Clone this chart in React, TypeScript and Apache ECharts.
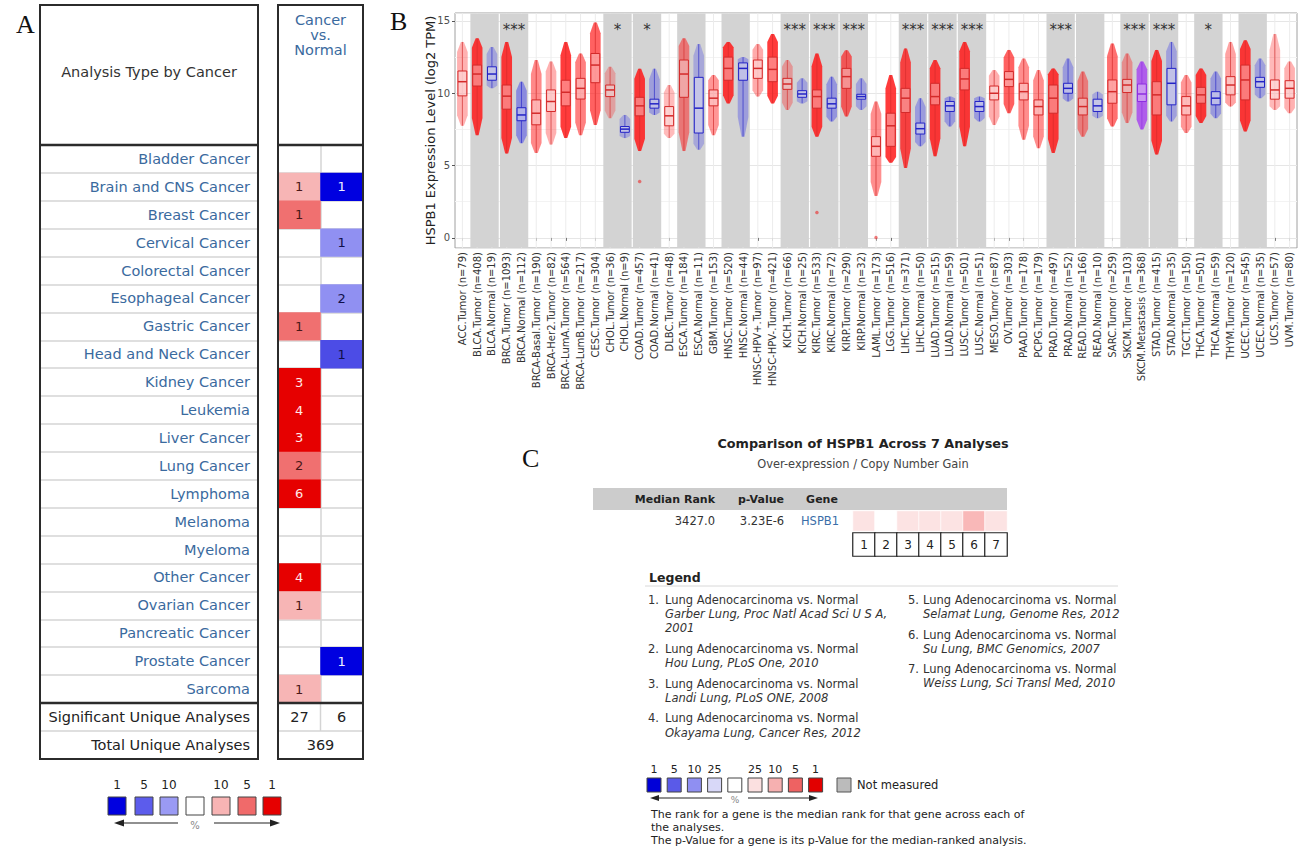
import React, { useEffect, useRef } from 'react';
import * as echarts from 'echarts';

const SANS = 'DejaVu Sans';
const SERIF = 'Liberation Serif';

// ---------------- Panel B data (TIMER) ----------------
const tcgaCodes = [
  'ACC', 'BLCA', 'BLCA', 'BRCA', 'BRCA', 'BRCA-Basal', 'BRCA-Her2', 'BRCA-LumA', 'BRCA-LumB', 'CESC',
  'CHOL', 'CHOL', 'COAD', 'COAD', 'DLBC', 'ESCA', 'ESCA', 'GBM', 'HNSC', 'HNSC',
  'HNSC-HPV+', 'HNSC-HPV-', 'KICH', 'KICH', 'KIRC', 'KIRC', 'KIRP', 'KIRP', 'LAML', 'LGG',
  'LIHC', 'LIHC', 'LUAD', 'LUAD', 'LUSC', 'LUSC', 'MESO', 'OV', 'PAAD', 'PCPG',
  'PRAD', 'PRAD', 'READ', 'READ', 'SARC', 'SKCM', 'SKCM', 'STAD', 'STAD', 'TGCT',
  'THCA', 'THCA', 'THYM', 'UCEC', 'UCEC', 'UCS', 'UVM',
];
const sampleTypes = [
  'Tumor', 'Tumor', 'Normal', 'Tumor', 'Normal', 'Tumor', 'Tumor', 'Tumor', 'Tumor', 'Tumor',
  'Tumor', 'Normal', 'Tumor', 'Normal', 'Tumor', 'Tumor', 'Normal', 'Tumor', 'Tumor', 'Normal',
  'Tumor', 'Tumor', 'Tumor', 'Normal', 'Tumor', 'Normal', 'Tumor', 'Normal', 'Tumor', 'Tumor',
  'Tumor', 'Normal', 'Tumor', 'Normal', 'Tumor', 'Normal', 'Tumor', 'Tumor', 'Tumor', 'Tumor',
  'Tumor', 'Normal', 'Tumor', 'Normal', 'Tumor', 'Tumor', 'Metastasis', 'Tumor', 'Normal', 'Tumor',
  'Tumor', 'Normal', 'Tumor', 'Tumor', 'Normal', 'Tumor', 'Tumor',
];
const sampleSizes = [
  79, 408, 19, 1093, 112, 190, 82, 564, 217, 304,
  36, 9, 457, 41, 48, 184, 11, 153, 520, 44,
  97, 421, 66, 25, 533, 72, 290, 32, 173, 516,
  371, 50, 515, 59, 501, 51, 87, 303, 178, 179,
  497, 52, 166, 10, 259, 103, 368, 415, 35, 150,
  501, 59, 120, 545, 35, 57, 80,
];
const lowerPts = [
  7.75, 7.1, 10.35, 5.83, 6.55, 5.87, 6.45, 6.9, 7.1, 7.8,
  8.28, 6.9, 6.0, 8.5, 6.9, 6.0, 6.1, 7.1, 9.3, 7.0,
  9.77, 9.3, 8.85, 9.3, 7.0, 8.05, 8.4, 8.85, 2.9, 5.2,
  4.84, 6.33, 5.64, 7.7, 6.33, 8.05, 7.8, 8.62, 6.79, 6.2,
  5.87, 9.43, 7.0, 8.28, 7.7, 7.94, 7.5, 5.76, 8.05, 7.25,
  7.94, 8.28, 9.08, 7.36, 9.66, 8.85, 8.62,
];
const q1Values = [
  9.82, 10.5, 10.9, 8.9, 8.1, 7.82, 8.74, 9.13, 9.6, 10.73,
  9.77, 7.3, 8.44, 8.97, 7.75, 9.72, 7.25, 9.13, 10.9, 10.9,
  11.03, 10.8, 10.27, 9.72, 8.97, 8.97, 10.34, 9.59, 5.64, 6.33,
  8.67, 7.18, 9.2, 8.74, 10.23, 8.74, 9.54, 10.46, 9.54, 8.5,
  8.62, 10.0, 8.5, 8.74, 9.31, 10.05, 9.43, 8.5, 9.2, 8.5,
  9.31, 9.2, 9.89, 9.54, 10.41, 9.59, 9.66,
];
const medianValues = [
  10.8, 11.33, 11.33, 9.8, 8.5, 8.62, 9.43, 10.07, 10.34, 11.95,
  10.23, 7.52, 9.13, 9.27, 8.44, 11.33, 8.97, 9.66, 11.72, 11.72,
  11.72, 11.65, 10.64, 9.95, 9.77, 9.27, 11.15, 9.77, 6.33, 7.75,
  9.66, 7.55, 9.77, 9.13, 10.99, 9.08, 10.0, 10.96, 10.11, 9.08,
  9.66, 10.34, 9.08, 9.13, 10.11, 10.57, 9.95, 9.89, 10.69, 9.13,
  9.89, 9.66, 10.57, 10.92, 10.8, 10.23, 10.34,
];
const q3Values = [
  11.54, 11.95, 11.83, 10.57, 9.0, 9.54, 10.23, 10.9, 11.03, 12.75,
  10.57, 7.7, 9.72, 9.59, 9.08, 12.3, 11.1, 10.23, 12.5, 12.1,
  12.3, 12.5, 11.03, 10.18, 10.23, 9.66, 11.72, 9.93, 7.0, 8.62,
  10.34, 7.94, 10.69, 9.43, 11.72, 9.43, 10.5, 11.5, 10.69, 9.54,
  10.57, 10.69, 9.66, 9.59, 10.92, 10.96, 10.64, 10.8, 11.72, 9.77,
  10.41, 10.11, 11.15, 11.95, 11.1, 10.92, 10.87,
];
const upperPts = [
  13.55, 13.8, 13.2, 13.55, 10.8, 12.3, 12.2, 13.55, 12.75, 14.9,
  11.83, 8.5, 11.7, 11.7, 10.57, 13.8, 13.4, 11.26, 13.55, 12.5,
  13.4, 14.1, 12.3, 11.03, 12.75, 11.15, 12.98, 11.03, 9.43, 11.26,
  13.1, 9.66, 12.3, 9.77, 13.55, 9.77, 11.6, 13.0, 12.4, 11.6,
  11.72, 12.4, 11.5, 10.1, 13.44, 12.75, 12.2, 13.0, 13.55, 11.26,
  11.72, 11.5, 13.55, 13.67, 12.4, 14.1, 12.2,
];
const outlierPoints = [[12, 3.9], [24, 1.75], [28, 0.02]];
const shadedPairs = [
  [1, 2], [3, 4], [10, 11], [12, 13], [15, 16], [18, 19], [22, 23], [24, 25], [26, 27],
  [30, 31], [32, 33], [34, 35], [40, 41], [42, 43], [45, 46], [47, 48], [50, 51], [53, 54],
];
const significance = [
  [3, 3], [10, 1], [12, 1], [22, 3], [24, 3], [26, 3], [30, 3], [32, 3], [34, 3],
  [40, 3], [45, 3], [47, 3], [50, 1],
];
const yAxisTitle = 'HSPB1 Expression Level (log2 TPM)';

// ---------------- Panel A data (Oncomine) ----------------
const cancerTypes = [
  'Bladder Cancer', 'Brain and CNS Cancer', 'Breast Cancer', 'Cervical Cancer', 'Colorectal Cancer',
  'Esophageal Cancer', 'Gastric Cancer', 'Head and Neck Cancer', 'Kidney Cancer', 'Leukemia',
  'Liver Cancer', 'Lung Cancer', 'Lymphoma', 'Melanoma', 'Myeloma',
  'Other Cancer', 'Ovarian Cancer', 'Pancreatic Cancer', 'Prostate Cancer', 'Sarcoma',
];
const overCounts = [null, 1, 1, null, null, null, 1, null, 3, 4, 3, 2, 6, null, null, 4, 1, null, null, 1];
const overLevels = [null, 10, 5, null, null, null, 5, null, 1, 1, 1, 5, 1, null, null, 1, 10, null, null, 10];
const underCounts = [null, 1, null, 1, null, 2, null, 1, null, null, null, null, null, null, null, null, null, null, 1, null];
const underLevels = [null, 1, null, 10, null, 10, null, 5, null, null, null, null, null, null, null, null, null, null, 1, null];
const significantUnique = [27, 6];
const totalUnique = 369;
const legendALabels = ['1', '5', '10', '', '10', '5', '1'];

// ---------------- Panel C data ----------------
const analysisIds = [1, 2, 3, 4, 5, 6, 7];
const analysisPercentile = [25, 100, 25, 25, 25, 10, 25];
const medianRank = '3427.0';
const pValue = '3.23E-6';
const geneName = 'HSPB1';
const legendStudies = [
  ['Lung Adenocarcinoma vs. Normal', 'Garber Lung, Proc Natl Acad Sci U S A,', '2001'],
  ['Lung Adenocarcinoma vs. Normal', 'Hou Lung, PLoS One, 2010'],
  ['Lung Adenocarcinoma vs. Normal', 'Landi Lung, PLoS ONE, 2008'],
  ['Lung Adenocarcinoma vs. Normal', 'Okayama Lung, Cancer Res, 2012'],
  ['Lung Adenocarcinoma vs. Normal', 'Selamat Lung, Genome Res, 2012'],
  ['Lung Adenocarcinoma vs. Normal', 'Su Lung, BMC Genomics, 2007'],
  ['Lung Adenocarcinoma vs. Normal', 'Weiss Lung, Sci Transl Med, 2010'],
];
const legendCLabels = ['1', '5', '10', '25', '', '25', '10', '5', '1'];

// ---------------- helpers ----------------
type TOpt = { size?: number; color?: string; align?: string; weight?: string; style?: string; family?: string; z?: number };
const txt = (text: string, x: number, y: number, o: TOpt = {}) => ({
  type: 'text', x, y, z: o.z ?? 20, silent: true,
  style: {
    text, fill: o.color || '#333', fontSize: o.size || 12, fontFamily: o.family || SANS,
    fontWeight: o.weight || 'normal', fontStyle: o.style || 'normal',
    align: o.align || 'left', verticalAlign: 'middle',
    textAlign: o.align || 'left', textVerticalAlign: 'middle',
  },
});
const rect = (x: number, y: number, w: number, h: number, fill: string, stroke?: string, lw = 1, z = 15) => ({
  type: 'rect', z, silent: true, shape: { x, y, width: w, height: h },
  style: { fill, stroke: stroke || 'none', lineWidth: lw },
});
const line = (x1: number, y1: number, x2: number, y2: number, stroke: string, lw = 1, z = 15) => ({
  type: 'line', z, silent: true, shape: { x1, y1, x2, y2 }, style: { stroke, lineWidth: lw },
});
const tri = (pts: number[][], fill: string) => ({
  type: 'polygon', z: 15, silent: true, shape: { points: pts }, style: { fill },
});

const STROKE = ['#d42a2a', '#2323c6', '#8d2ee0'];
const CLOUD = ['255,25,25', '25,25,240', '165,60,240'];

function buildOption() {
  const categories = tcgaCodes.map((c, i) => `${c}.${sampleTypes[i]} (n=${sampleSizes[i]})`);
  const typeIdx = sampleTypes.map((t) => (t === 'Tumor' ? 0 : t === 'Normal' ? 1 : 2));
  const boxData = categories.map((_, i) => [
    i, lowerPts[i], q1Values[i], medianValues[i], q3Values[i], upperPts[i], sampleSizes[i], typeIdx[i],
  ]);

  const heatA: any[] = [];
  cancerTypes.forEach((_, r) => {
    if (overCounts[r] != null) {
      heatA.push({ value: [0, r, overCounts[r], overLevels[r]], label: { color: overLevels[r] === 1 ? '#ffe9e9' : '#4a1818' } });
    }
    if (underCounts[r] != null) {
      heatA.push({ value: [1, r, underCounts[r], -(underLevels[r] as number)], label: { color: underLevels[r] === 1 ? '#eef0ff' : '#10104a' } });
    }
  });

  const graphics: any[] = [];
  graphics.push(txt('A', 16, 24, { size: 26, family: SERIF, color: '#111' }));
  graphics.push(txt('B', 390, 21, { size: 26, family: SERIF, color: '#111' }));
  graphics.push(txt('C', 522, 458, { size: 26, family: SERIF, color: '#111' }));

  // ---- Panel A table frame ----
  graphics.push(rect(40, 5, 218, 754, 'none', '#2b2b2b', 2, 30));
  graphics.push(rect(278, 5, 85, 754, 'none', '#2b2b2b', 2, 30));
  graphics.push(line(40, 145, 258, 145, '#2b2b2b', 2.5, 30));
  graphics.push(line(278, 145, 363, 145, '#2b2b2b', 2.5, 30));
  graphics.push(line(40, 703, 258, 703, '#2b2b2b', 2.5, 30));
  graphics.push(line(278, 703, 363, 703, '#2b2b2b', 2.5, 30));
  graphics.push(line(40, 731, 258, 731, '#d4d4d4', 1.5));
  graphics.push(line(278, 731, 363, 731, '#d4d4d4', 1.5));
  graphics.push(line(320.5, 703, 320.5, 731, '#d4d4d4', 1.5));
  graphics.push(txt('Analysis Type by Cancer', 149, 72, { size: 14.5, color: '#333', align: 'center' }));
  graphics.push(txt('Cancer', 320.5, 20, { size: 14.5, color: '#3a6a9e', align: 'center' }));
  graphics.push(txt('vs.', 320.5, 35, { size: 14.5, color: '#3a6a9e', align: 'center' }));
  graphics.push(txt('Normal', 320.5, 50, { size: 14.5, color: '#3a6a9e', align: 'center' }));
  graphics.push(txt('Significant Unique Analyses', 250, 717, { size: 14.5, color: '#222', align: 'right' }));
  graphics.push(txt('Total Unique Analyses', 250, 745, { size: 14.5, color: '#222', align: 'right' }));
  graphics.push(txt(String(significantUnique[0]), 299.5, 717, { size: 14.5, color: '#222', align: 'center' }));
  graphics.push(txt(String(significantUnique[1]), 341.5, 717, { size: 14.5, color: '#222', align: 'center' }));
  graphics.push(txt(String(totalUnique), 320.5, 745, { size: 14.5, color: '#222', align: 'center' }));

  // ---- Panel A legend ----
  const aLegColors = ['#0000e0', '#5c5cec', '#9a9af4', '#ffffff', '#f8b4b4', '#f06a6a', '#e60000'];
  const aLegX = [108, 135, 160, 186, 212, 238, 263];
  aLegX.forEach((x, i) => {
    graphics.push(rect(x, 797, 18, 18, aLegColors[i], '#444', 1));
    if (legendALabels[i]) graphics.push(txt(legendALabels[i], x + 9, 785, { size: 12, color: '#222', align: 'center' }));
  });
  graphics.push(line(122, 823, 178, 823, '#222', 1.2));
  graphics.push(tri([[114, 823], [124, 819.5], [124, 826.5]], '#222'));
  graphics.push(txt('%', 195, 825, { size: 10, color: '#888', align: 'center' }));
  graphics.push(line(214, 823, 272, 823, '#222', 1.2));
  graphics.push(tri([[280, 823], [270, 819.5], [270, 826.5]], '#222'));

  // ---- Panel C ----
  graphics.push(txt('Comparison of HSPB1 Across 7 Analyses', 863, 443, { size: 12.8, weight: 'bold', color: '#222', align: 'center' }));
  graphics.push(txt('Over-expression / Copy Number Gain', 863, 464, { size: 11.4, color: '#444', align: 'center' }));
  graphics.push(rect(593, 488, 414, 22, '#cccccc', undefined, 1, 1));
  graphics.push(txt('Median Rank', 715, 499, { size: 11, weight: 'bold', color: '#222', align: 'right' }));
  graphics.push(txt('p-Value', 761, 499, { size: 11, weight: 'bold', color: '#222', align: 'center' }));
  graphics.push(txt('Gene', 822, 499, { size: 11, weight: 'bold', color: '#222', align: 'center' }));
  graphics.push(txt(medianRank, 715, 521, { size: 11.5, color: '#333', align: 'right' }));
  graphics.push(txt(pValue, 762, 521, { size: 11.5, color: '#333', align: 'center' }));
  graphics.push(txt(geneName, 820, 521, { size: 11.5, color: '#3a6ea8', align: 'center' }));

  graphics.push(txt('Legend', 649, 577, { size: 12.5, weight: 'bold', color: '#222' }));
  graphics.push(line(645, 586, 1118, 586, '#d8d8d8', 1));
  const col1Y = [[600, 614, 628], [649, 663], [684, 698], [718, 733]];
  const col2Y = [[600, 614], [635, 649], [669, 683]];
  legendStudies.forEach((s, k) => {
    const inCol1 = k < 4;
    const ys = inCol1 ? col1Y[k] : col2Y[k - 4];
    const nx = inCol1 ? 648 : 908;
    const tx = inCol1 ? 665 : 923;
    graphics.push(txt(`${k + 1}.`, nx, ys[0], { size: 11.5, color: '#333' }));
    graphics.push(txt(s[0], tx, ys[0], { size: 11.5, color: '#333' }));
    for (let j = 1; j < s.length; j++) {
      graphics.push(txt(s[j], tx, ys[j], { size: 11.5, color: '#333', style: 'italic' }));
    }
  });

  const cLegColors = ['#0000d8', '#5a5ae8', '#8f8ff2', '#d8d8f8', '#ffffff', '#fbe0e0', '#f6b0b0', '#ee6262', '#e20000'];
  cLegColors.forEach((c, i) => {
    const x = 647 + i * 20.2;
    graphics.push(rect(x, 778, 14, 14, c, '#444', 1));
    if (legendCLabels[i]) graphics.push(txt(legendCLabels[i], x + 7, 769, { size: 11, color: '#222', align: 'center' }));
  });
  graphics.push(rect(837, 778, 14, 14, '#bbbbbb', '#555', 1));
  graphics.push(txt('Not measured', 857, 785, { size: 11.5, color: '#222' }));
  graphics.push(line(657, 798, 722, 798, '#222', 1.2));
  graphics.push(tri([[650, 798], [659, 795], [659, 801]], '#222'));
  graphics.push(txt('%', 735, 800, { size: 9, color: '#888', align: 'center' }));
  graphics.push(line(748, 798, 811, 798, '#222', 1.2));
  graphics.push(tri([[818, 798], [809, 795], [809, 801]], '#222'));
  graphics.push(txt('The rank for a gene is the median rank for that gene across each of', 651, 814, { size: 11, color: '#222' }));
  graphics.push(txt('the analyses.', 651, 827, { size: 11, color: '#222' }));
  graphics.push(txt('The p-Value for a gene is its p-Value for the median-ranked analysis.', 651, 840, { size: 11, color: '#222' }));

  return {
    animation: false,
    backgroundColor: '#ffffff',
    grid: [
      { left: 455, top: 13, width: 842, height: 235, show: true, borderColor: '#a0a0a0', borderWidth: 1, backgroundColor: '#fff' },
      { left: 40, top: 145, width: 218, height: 558 },
      { left: 278, top: 145, width: 85, height: 558 },
      { left: 853, top: 511, width: 154, height: 20 },
      { left: 853, top: 533, width: 154, height: 23 },
    ],
    xAxis: [
      {
        type: 'category', gridIndex: 0, data: categories,
        axisLine: { show: false },
        axisTick: { show: true, alignWithLabel: true, length: 3, interval: 0, lineStyle: { color: '#444' } },
        axisLabel: { rotate: 90, interval: 0, fontSize: 10, fontFamily: SANS, color: '#333', margin: 4 },
        splitLine: { show: false },
      },
      { type: 'category', gridIndex: 1, data: [''], show: false },
      {
        type: 'category', gridIndex: 2, data: ['over', 'under'],
        axisLine: { show: false }, axisTick: { show: false }, axisLabel: { show: false },
        splitLine: { show: true, interval: 0, lineStyle: { color: '#d4d4d4', width: 1.5 } },
      },
      { type: 'category', gridIndex: 3, data: analysisIds.map(String), show: false },
      { type: 'category', gridIndex: 4, data: analysisIds.map(String), show: false },
    ],
    yAxis: [
      {
        type: 'value', gridIndex: 0, min: -0.7, max: 15.55, splitNumber: 3,
        name: yAxisTitle, nameLocation: 'middle', nameGap: 18, nameMoveOverlap: false,
        nameTextStyle: { fontSize: 13, fontFamily: SANS, color: '#222' },
        axisLine: { show: false },
        axisTick: { show: true, length: 3, lineStyle: { color: '#555' } },
        axisLabel: { fontSize: 10, fontFamily: SANS, color: '#4d4d4d', margin: 5, showMinLabel: false, showMaxLabel: false },
        splitLine: { show: true, lineStyle: { color: '#e6e6e6' } },
        minorTick: { show: false, splitNumber: 2 },
        minorSplitLine: { show: true, lineStyle: { color: '#f3f3f3' } },
      },
      {
        type: 'category', gridIndex: 1, data: cancerTypes, inverse: true, position: 'right',
        axisLine: { show: false }, axisTick: { show: false },
        axisLabel: { inside: true, interval: 0, margin: 8, fontSize: 14.5, fontFamily: SANS, color: '#3a6a9e' },
        splitLine: { show: true, interval: 0, lineStyle: { color: '#d4d4d4', width: 1.5 } },
      },
      {
        type: 'category', gridIndex: 2, data: cancerTypes, inverse: true,
        axisLine: { show: false }, axisTick: { show: false }, axisLabel: { show: false },
        splitLine: { show: true, interval: 0, lineStyle: { color: '#d4d4d4', width: 1.5 } },
      },
      { type: 'category', gridIndex: 3, data: [geneName], show: false },
      { type: 'category', gridIndex: 4, data: [''], show: false },
    ],
    visualMap: [
      {
        type: 'piecewise', show: false, seriesIndex: 5, dimension: 3,
        pieces: [
          { value: -1, color: '#0000e0' }, { value: -5, color: '#4c4ce6' }, { value: -10, color: '#9090f2' },
          { value: 10, color: '#f7b5b5' }, { value: 5, color: '#f07070' }, { value: 1, color: '#e60000' },
        ],
      },
      {
        type: 'piecewise', show: false, seriesIndex: 6, dimension: 2,
        pieces: [
          { lte: 1, color: '#e20000' }, { gt: 1, lte: 5, color: '#ee6262' }, { gt: 5, lte: 10, color: '#f9b8b8' },
          { gt: 10, lte: 25, color: '#fce3e3' }, { gt: 25, color: '#ffffff' },
        ],
      },
      {
        type: 'piecewise', show: false, seriesIndex: 7, dimension: 2,
        pieces: [{ gte: 0, color: '#ffffff' }],
      },
    ],
    series: [
      {
        type: 'custom', xAxisIndex: 0, yAxisIndex: 0, silent: true, z: 1,
        data: categories.map((_, i) => [i, 0]),
        encode: { x: 0, y: 1 },
        renderItem: (params: any, api: any) => {
          const p = api.coord([api.value(0), 0]);
          const cs = params.coordSys;
          return { type: 'line', shape: { x1: p[0], y1: cs.y, x2: p[0], y2: cs.y + cs.height }, style: { stroke: '#ececec', lineWidth: 1 } };
        },
      },
      {
        type: 'custom', xAxisIndex: 0, yAxisIndex: 0, silent: true, z: 2,
        data: shadedPairs.map((p) => [p[0], p[1], 0]),
        encode: { x: [0, 1], y: 2 },
        renderItem: (params: any, api: any) => {
          const a = api.value(0);
          const b = api.value(1);
          const bw = api.size([1, 0])[0];
          const pa = api.coord([a, 0]);
          const cs = params.coordSys;
          return {
            type: 'rect',
            shape: { x: pa[0] - bw / 2 + 0.6, y: cs.y + 0.5, width: (b - a + 1) * bw - 1.2, height: cs.height - 1 },
            style: { fill: '#d3d3d3' },
          };
        },
      },
      {
        type: 'custom', xAxisIndex: 0, yAxisIndex: 0, silent: true, z: 3,
        data: boxData,
        encode: { x: 0, y: [1, 2, 3, 4, 5] },
        renderItem: (params: any, api: any) => {
          const i = api.value(0);
          const lo = api.coord([i, api.value(1)]);
          const q1 = api.coord([i, api.value(2)]);
          const md = api.coord([i, api.value(3)]);
          const q3 = api.coord([i, api.value(4)]);
          const hi = api.coord([i, api.value(5)]);
          const n = api.value(6);
          const t = api.value(7);
          const bw = api.size([1, 0])[0];
          const cx = lo[0];
          const cw = bw * 0.72;
          const boxW = bw * 0.6;
          const alpha = Math.min(0.85, 0.22 + n / 650);
          const yA = lo[1] + (q1[1] - lo[1]) * 0.35;
          const yB = hi[1] + (q3[1] - hi[1]) * 0.35;
          const stroke = STROKE[t];
          return {
            type: 'group',
            children: [
              {
                type: 'polygon',
                shape: {
                  points: [
                    [cx - 1.5, lo[1]], [cx - cw / 2, yA], [cx - cw / 2, yB], [cx - 1.5, hi[1]],
                    [cx + 1.5, hi[1]], [cx + cw / 2, yB], [cx + cw / 2, yA], [cx + 1.5, lo[1]],
                  ],
                },
                style: { fill: `rgba(${CLOUD[t]},${alpha})` },
              },
              { type: 'line', shape: { x1: cx, y1: lo[1], x2: cx, y2: q1[1] }, style: { stroke, lineWidth: 0.8, opacity: 0.8 } },
              { type: 'line', shape: { x1: cx, y1: q3[1], x2: cx, y2: hi[1] }, style: { stroke, lineWidth: 0.8, opacity: 0.8 } },
              {
                type: 'rect',
                shape: { x: cx - boxW / 2, y: q3[1], width: boxW, height: q1[1] - q3[1] },
                style: { fill: 'rgba(255,255,255,0.35)', stroke, lineWidth: 1 },
              },
              { type: 'line', shape: { x1: cx - boxW / 2, y1: md[1], x2: cx + boxW / 2, y2: md[1] }, style: { stroke, lineWidth: 1.5 } },
            ],
          };
        },
      },
      {
        type: 'scatter', xAxisIndex: 0, yAxisIndex: 0, silent: true, z: 4,
        symbolSize: 3.5, data: outlierPoints,
        itemStyle: { color: 'rgba(235,40,40,0.75)' },
      },
      {
        type: 'custom', xAxisIndex: 0, yAxisIndex: 0, silent: true, z: 5,
        data: significance.map((s) => [s[0], s[1], 14.35]),
        encode: { x: 0, y: 2 },
        renderItem: (params: any, api: any) => {
          const s = api.value(0);
          const k = api.value(1);
          const bw = api.size([1, 0])[0];
          const p = api.coord([s, api.value(2)]);
          return {
            type: 'text',
            style: {
              text: '*'.repeat(k), x: p[0] + bw / 2, y: p[1], fill: '#333', fontSize: 15, fontFamily: SANS,
              align: 'center', verticalAlign: 'middle', textAlign: 'center', textVerticalAlign: 'middle',
            },
          };
        },
      },
      {
        type: 'heatmap', xAxisIndex: 2, yAxisIndex: 2, silent: true, z: 3,
        data: heatA,
        label: { show: true, formatter: (p: any) => String(p.value[2]), fontSize: 13, fontFamily: SANS },
      },
      {
        type: 'heatmap', xAxisIndex: 3, yAxisIndex: 3, silent: true, z: 3,
        data: analysisPercentile.map((v, i) => [i, 0, v]),
        itemStyle: { borderColor: 'rgba(255,255,255,0.7)', borderWidth: 1 },
      },
      {
        type: 'heatmap', xAxisIndex: 4, yAxisIndex: 4, silent: true, z: 3,
        data: analysisIds.map((l, i) => [i, 0, l]),
        itemStyle: { color: '#ffffff', borderColor: '#222', borderWidth: 1.2 },
        label: { show: true, formatter: (p: any) => String(p.value[2]), fontSize: 12, fontFamily: SANS, color: '#222' },
      },
    ],
    graphic: { elements: graphics },
  };
}

export default function App() {
  const ref = useRef<HTMLDivElement>(null);
  useEffect(() => {
    const chart = echarts.init(ref.current as HTMLDivElement, null, { renderer: 'svg' });
    chart.setOption(buildOption() as any);
    return () => chart.dispose();
  }, []);
  return (
    <div
      ref={ref}
      style={{ position: 'absolute', left: 0, top: 0, width: 1308, height: 852, background: '#fff' }}
    />
  );
}
